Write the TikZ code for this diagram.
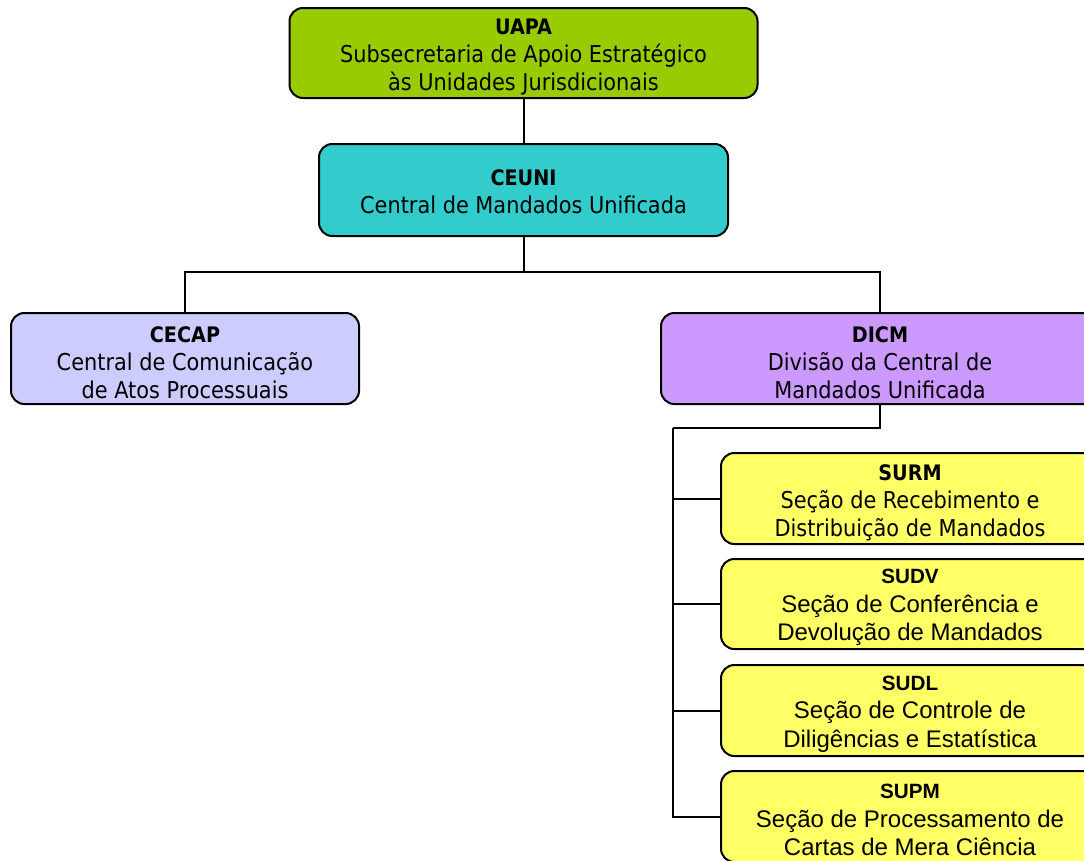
\documentclass[tikz,border=0pt]{standalone}
\usepackage{fontspec}
\setmainfont{DejaVu Sans Condensed}
\newfontfamily\arialf{Liberation Sans}
\definecolor{cgreen}{HTML}{99CC00}
\definecolor{cteal}{HTML}{33CCCC}
\definecolor{clav}{HTML}{CCCCFF}
\definecolor{cpurp}{HTML}{CC99FF}
\definecolor{cyel}{HTML}{FFFF66}
\newcommand\ttl[2][18]{{\rule{0pt}{#1pt}\bfseries\fontsize{16}{21}\selectfont #2}}
\newcommand\attl[2][16]{{\rule{0pt}{#1pt}\bfseries\fontsize{15.5}{21.5}\selectfont #2}}
\begin{document}
\begin{tikzpicture}[x=0.75pt,y=-0.75pt,
  box/.style={draw=black, line width=1.5pt, rounded corners=10pt, align=center,
    inner sep=0pt, font=\fontsize{17.4}{21}\selectfont},
  abox/.style={box, font=\arialf\fontsize{18}{21.5}\selectfont},
  conn/.style={draw=black, line width=1.5pt}]
\useasboundingbox (0,0) rectangle (1084,860);
\clip (0,0) rectangle (1084,860);
\node[box, fill=cgreen, minimum width=468*0.75pt, minimum height=90*0.75pt] (uapa) at (523.5,53)
  {\ttl{UAPA}\\Subsecretaria de Apoio Estratégico\\às Unidades Jurisdicionais};
\node[box, fill=cteal, minimum width=409*0.75pt, minimum height=92*0.75pt] (ceuni) at (523.5,190)
  {\ttl[14]{CEUNI}\\Central de Mandados Unificada};
\node[box, fill=clav, minimum width=348*0.75pt, minimum height=91*0.75pt] (cecap) at (185,358.5)
  {\ttl{CECAP}\\Central de Comunicação\\de Atos Processuais};
\node[box, fill=cpurp, minimum width=438*0.75pt, minimum height=91*0.75pt] (dicm) at (880,358.5)
  {\ttl{DICM}\\Divisão da Central de\\Mandados Unificada};
\node[box, fill=cyel, minimum width=378*0.75pt, minimum height=91*0.75pt] (surm) at (910,498.5)
  {\ttl[19]{SURM}\\Seção de Recebimento e\\Distribuição de Mandados};
\node[abox, fill=cyel, minimum width=378*0.75pt, minimum height=90*0.75pt] (sudv) at (910,604)
  {\attl{SUDV}\\Seção de Conferência e\\Devolução de Mandados};
\node[abox, fill=cyel, minimum width=378*0.75pt, minimum height=91*0.75pt] (sudl) at (910,710.5)
  {\attl{SUDL}\\Seção de Controle de\\Diligências e Estatística};
\node[abox, fill=cyel, minimum width=378*0.75pt, minimum height=91*0.75pt] (supm) at (910,816.5)
  {\attl{SUPM}\\Seção de Processamento de\\Cartas de Mera Ciência};
\coordinate (bus) at (523.5,272);
\coordinate (trunk) at (673,428);
\draw[conn] (uapa.south) -- (ceuni.north);
\draw[conn] (ceuni.south) -- (bus);
\draw[conn] (bus) -| (cecap.north);
\draw[conn] (bus) -| (dicm.north);
\draw[conn] (dicm.south) |- (trunk);
\foreach \n in {surm,sudv,sudl,supm} \draw[conn] (trunk) |- (\n.west);
\end{tikzpicture}
\end{document}
